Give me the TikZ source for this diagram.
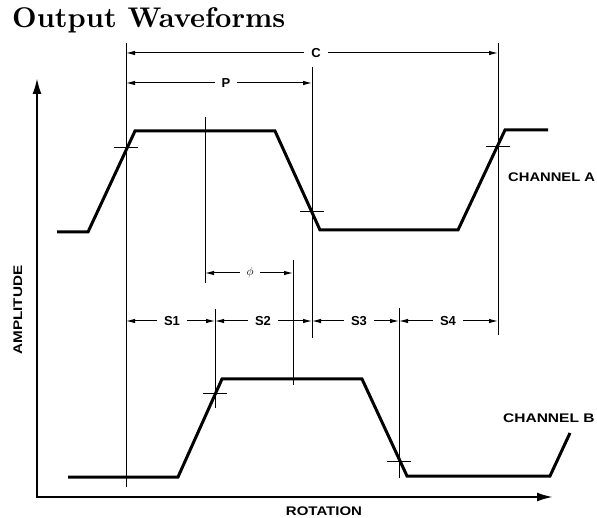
\documentclass[tikz,border=0pt]{standalone}
\usepackage{fontspec}
\setsansfont{Liberation Sans}
\usetikzlibrary{arrows.meta}
\begin{document}
\begin{tikzpicture}[x=1pt,y=-1pt,
  wave/.style={line width=3pt, line join=miter},
  refline/.style={line width=0.9pt},
  axisline/.style={line width=2.2pt, line join=miter, {Latex[length=16pt,width=9pt]}-{Latex[length=16pt,width=9pt]}},
  dim/.style={line width=1pt, {Latex[length=9pt,width=4.5pt]}-{Latex[length=9pt,width=4.5pt]}},
  dimlabel/.style={fill=white, font=\sffamily\bfseries\fontsize{13}{13}\selectfont, inner xsep=7pt, inner ysep=1pt},
  sidelabel/.style={font=\sffamily\bfseries\fontsize{12.5}{13}\selectfont, inner sep=0pt}
]
\useasboundingbox (0,0) rectangle (597,518);

% title
\node[anchor=base west, inner sep=0pt] (title) at (12,28) {\resizebox{273pt}{!}{\bfseries Output Waveforms}};

% axes
\draw[axisline] (37,78) -- (37,497) -- (553,497);
\node[sidelabel, rotate=90] (amp) at (18,310) {\scalebox{1.22}[1]{AMPLITUDE}};
\node[sidelabel] (rot) at (324,511) {\scalebox{1.2}[1]{ROTATION}};

% extension lines
\draw[refline] (126,43) -- (126,487);
\draw[refline] (205,117) -- (205,283);
\draw[refline] (312,67) -- (312,338);
\draw[refline] (498,43) -- (498,335);
\draw[refline] (215,309) -- (215,408);
\draw[refline] (293,260) -- (293,385);
\draw[refline] (399,308) -- (399,478);

% crossing ticks
\foreach \p in {(126,147),(312,211),(498,146),(215,393),(399,461)}
  \draw[refline] \p ++(-12,0) -- ++(24,0);

% channel A
\draw[wave] (57,232) -- (88,232) -- (135,131) -- (275,131) -- (320,230) -- (458,230) -- (505,130) -- (548,130);
\node[sidelabel, anchor=west] (cha) at (508,177) {\scalebox{1.18}[1]{CHANNEL A}};

% channel B
\draw[wave] (68,477) -- (178,477) -- (222,379) -- (362,379) -- (407,476) -- (550,476) -- (570,433);
\node[sidelabel, anchor=west] (chb) at (503,418) {\scalebox{1.24}[1]{CHANNEL B}};

% dimension lines
\coordinate (c1) at (126,53); \coordinate (c2) at (498,53);
\draw[dim] (c1) -- (c2);
\node[dimlabel] (lc) at (316,53) {C};

\coordinate (p1) at (126,83); \coordinate (p2) at (312,83);
\draw[dim] (p1) -- (p2);
\node[dimlabel] (lp) at (226,83) {P};

\coordinate (f1) at (205,273); \coordinate (f2) at (293,273);
\draw[dim] (f1) -- (f2);
\node[dimlabel, font=\fontsize{13}{13}\selectfont] (lf) at (250,273) {$\phi$};

\coordinate (s0) at (126,321); \coordinate (s1) at (215,321);
\coordinate (s2) at (312,321); \coordinate (s3) at (399,321);
\coordinate (s4) at (498,321);
\draw[dim] (s0) -- (s1);
\draw[dim] (s1) -- (s2);
\draw[dim] (s2) -- (s3);
\draw[dim] (s3) -- (s4);
\node[dimlabel] (ls1) at (172,321) {S1};
\node[dimlabel] (ls2) at (263,321) {S2};
\node[dimlabel] (ls3) at (359,321) {S3};
\node[dimlabel] (ls4) at (448,321) {S4};
\end{tikzpicture}
\end{document}
